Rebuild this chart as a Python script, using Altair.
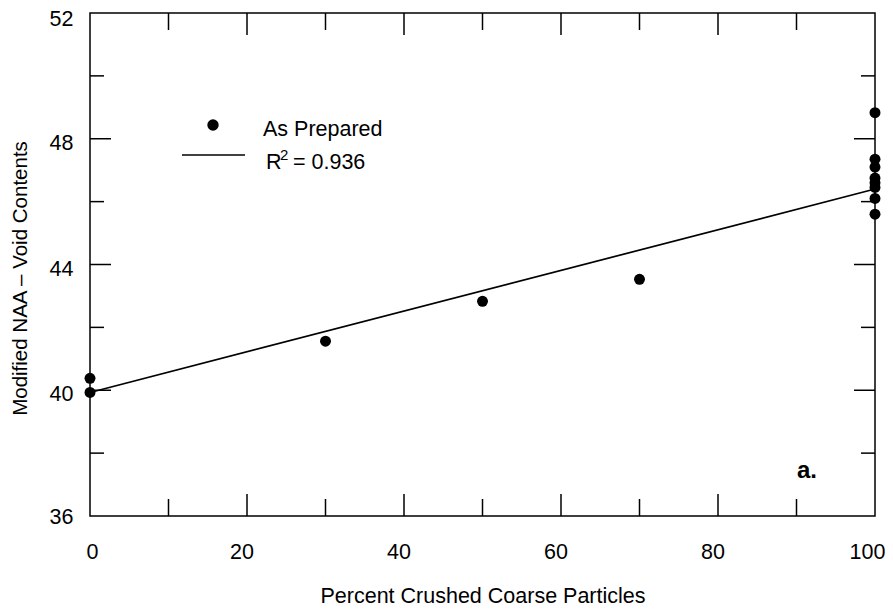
import altair as alt
import pandas as pd

# ---- data ----
pct_crushed = [0, 0, 30, 50, 70, 100, 100, 100, 100, 100, 100, 100, 100]
void_content = [40.38, 39.93, 41.56, 42.83, 43.53, 48.83, 47.35, 47.10, 46.75, 46.60, 46.45, 46.10, 45.60]
fit_x = [0, 100]
fit_y = [39.93, 46.40]
x_labels = [0, 20, 40, 60, 80, 100]
y_labels = [36, 40, 44, 48, 52]
x_major = [20, 40, 60, 80]
x_minor = [10, 30, 50, 70, 90]
y_major = [40, 44, 48]
y_minor = [38, 42, 46, 50]
legend_points = ["As Prepared"]
legend_fit = ["= 0.936"]
panel_tag = ["a."]

W, H = 785, 503
FONT = "Liberation Sans"
FS = 21.5
X_TITLE = "Percent Crushed Coarse Particles"
Y_TITLE = "Modified NAA \u2013 Void Contents"

xs = alt.Scale(domain=[0, 100], nice=False, zero=False)
ys = alt.Scale(domain=[36, 52], nice=False, zero=False)

x_axis = alt.Axis(
    title=X_TITLE,
    values=x_labels, ticks=False, domain=False, grid=False,
    labelFont=FONT, labelFontSize=FS, labelColor="black",
    labelPadding=42, labelBaseline="alphabetic", labelFlush=False, labelOverlap=False,
    labelOffset={"condition": [{"test": "datum.value == 0", "value": 2},
                               {"test": "datum.value == 100", "value": -8}], "value": -5.5},
    titleFont=FONT, titleFontSize=FS, titleFontWeight="normal", titleColor="black",
    titleY=86, titleBaseline="alphabetic",
)
y_axis = alt.Axis(
    title=Y_TITLE,
    values=y_labels, ticks=False, domain=False, grid=False,
    labelFont=FONT, labelFontSize=FS, labelColor="black",
    labelPadding=17, labelBaseline="middle", labelFlush=False, labelOverlap=False,
    labelOffset={"condition": [{"test": "datum.value == 52", "value": 6.5},
                               {"test": "datum.value == 36", "value": 1.5}], "value": 4.5},
    titleFont=FONT, titleFontSize=20.5, titleFontWeight="normal", titleColor="black",
    titleAngle=-90, titleX=-63.5, titleY=265, titleAlign="center", titleBaseline="alphabetic",
)


def X(field):
    return alt.X(field, type="quantitative", scale=xs, axis=x_axis, title=X_TITLE)


def Y(field):
    return alt.Y(field, type="quantitative", scale=ys, axis=y_axis, title=Y_TITLE)


pts = alt.Chart(pd.DataFrame({"x": pct_crushed, "y": void_content})).mark_circle(
    size=120, color="black", opacity=1
).encode(x=X("x"), y=Y("y"))

fit = alt.Chart(pd.DataFrame({"x": fit_x, "y": fit_y})).mark_line(
    color="black", strokeWidth=1.7
).encode(x=X("x"), y=Y("y"))


def xticks(vals, length, bottom):
    c = alt.Chart(pd.DataFrame({"x": vals})).mark_rule(color="black", strokeWidth=1.5)
    if bottom:
        return c.encode(x=X("x"), y=alt.value(H), y2=alt.value(H - length))
    return c.encode(x=X("x"), y=alt.value(0), y2=alt.value(length))


def yticks(vals, length, right):
    c = alt.Chart(pd.DataFrame({"y": vals})).mark_rule(color="black", strokeWidth=1.5)
    if right:
        return c.encode(y=Y("y"), x=alt.value(W), x2=alt.value(W - length))
    return c.encode(y=Y("y"), x=alt.value(0), x2=alt.value(length))


ticks = [
    xticks(x_major, 22, True), xticks(x_minor, 17, True),
    xticks(x_major, 22, False), xticks(x_minor, 17, False),
    yticks(y_major, 21, False), yticks(y_minor, 14, False),
    yticks(y_major, 21, True), yticks(y_minor, 14, True),
]

leg_dot = alt.Chart(pd.DataFrame({"t": legend_points})).mark_circle(
    size=130, color="black", opacity=1
).encode(x=alt.value(123), y=alt.value(112))
leg_line = alt.Chart(pd.DataFrame({"t": legend_fit})).mark_rule(
    color="black", strokeWidth=1.5
).encode(x=alt.value(92), x2=alt.value(155), y=alt.value(142))
leg_t1 = alt.Chart(pd.DataFrame({"t": legend_points})).mark_text(
    font=FONT, fontSize=FS, align="left", baseline="alphabetic", color="black"
).encode(x=alt.value(173), y=alt.value(123), text="t:N")
leg_r = alt.Chart(pd.DataFrame({"t": ["R"]})).mark_text(
    font=FONT, fontSize=FS, align="left", baseline="alphabetic", color="black"
).encode(x=alt.value(176), y=alt.value(156), text="t:N")
leg_sup = alt.Chart(pd.DataFrame({"t": ["2"]})).mark_text(
    font=FONT, fontSize=15, align="left", baseline="alphabetic", color="black"
).encode(x=alt.value(190), y=alt.value(147), text="t:N")
leg_t2 = alt.Chart(pd.DataFrame({"t": legend_fit})).mark_text(
    font=FONT, fontSize=FS, align="left", baseline="alphabetic", color="black"
).encode(x=alt.value(203), y=alt.value(156), text="t:N")
tag = alt.Chart(pd.DataFrame({"t": panel_tag})).mark_text(
    font=FONT, fontSize=24, fontWeight="bold", align="left", baseline="alphabetic", color="black"
).encode(x=alt.value(707), y=alt.value(465), text="t:N")

chart = alt.layer(
    pts, fit, *ticks, leg_dot, leg_line, leg_t1, leg_r, leg_sup, leg_t2, tag
).properties(
    width=W, height=H,
    background="white",
    autosize=alt.AutoSizeParams(type="none"),
    padding={"left": 82, "top": 5, "right": 10, "bottom": 90},
).configure_view(stroke="black", strokeWidth=1.5)

chart.save("out.html", embed_options={"renderer": "svg", "actions": False})
